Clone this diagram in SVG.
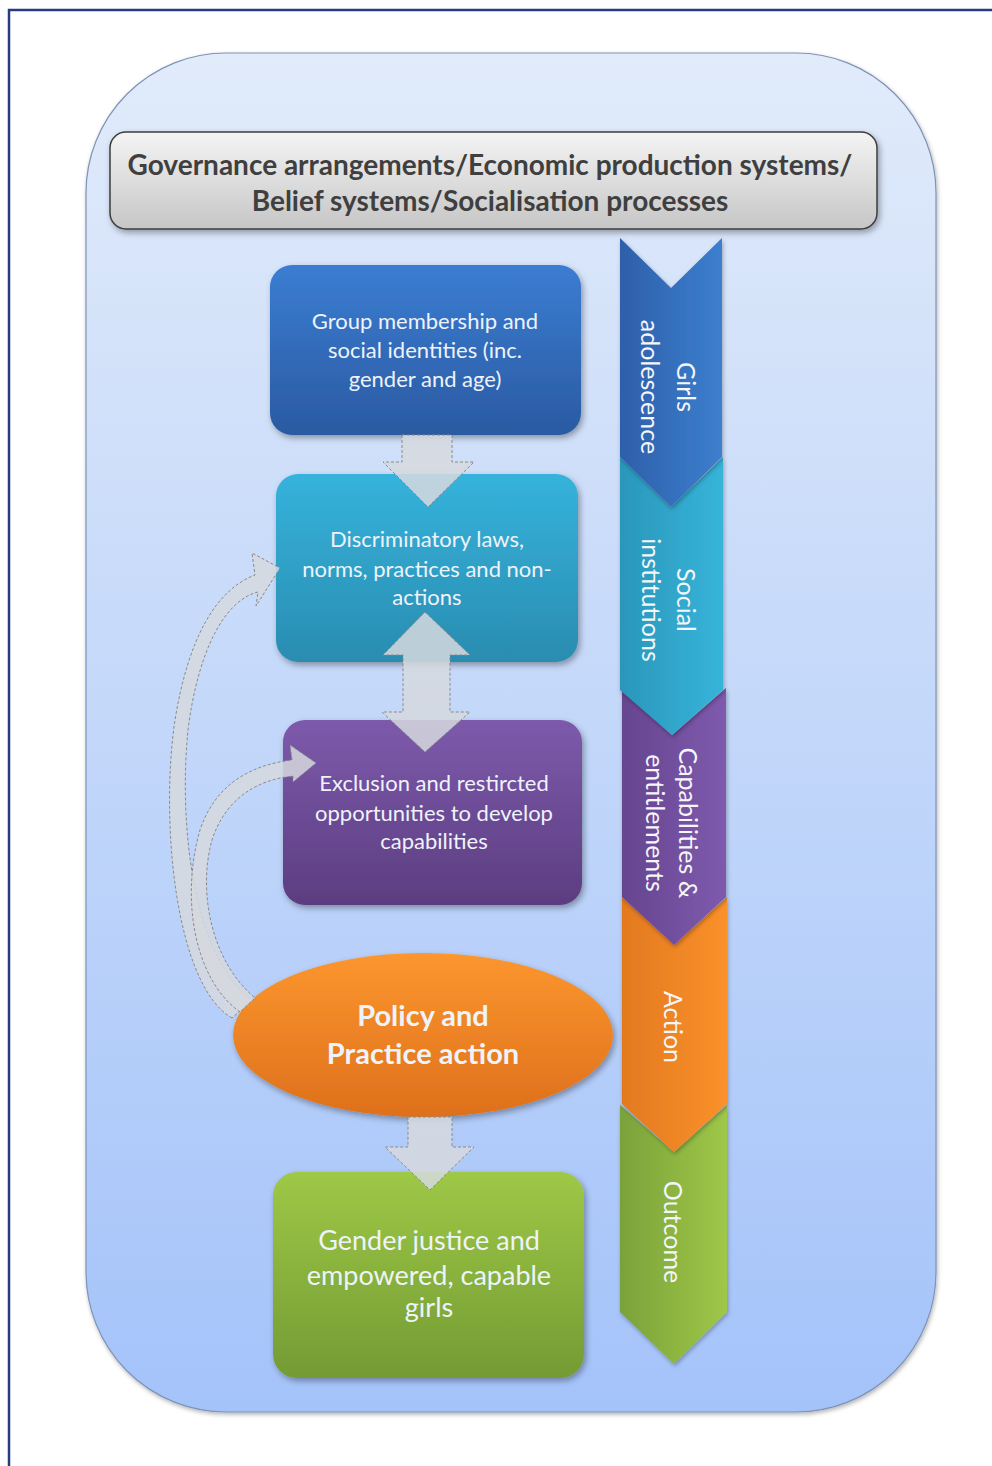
<svg xmlns="http://www.w3.org/2000/svg" width="992" height="1466" viewBox="0 0 992 1466">
<defs>
<linearGradient id="gFrame" x1="0" y1="0" x2="0" y2="1"><stop offset="0" stop-color="#E1EBFA"/><stop offset="1" stop-color="#A4C3FA"/></linearGradient>
<linearGradient id="gHead" x1="0" y1="0" x2="0" y2="1"><stop offset="0" stop-color="#F4F4F4"/><stop offset="1" stop-color="#C6C6C6"/></linearGradient>
<linearGradient id="gBlue" x1="0" y1="0" x2="0" y2="1"><stop offset="0" stop-color="#3B7DD2"/><stop offset="1" stop-color="#2A5AA2"/></linearGradient>
<linearGradient id="gCyan" x1="0" y1="0" x2="0" y2="1"><stop offset="0" stop-color="#35B3DC"/><stop offset="1" stop-color="#2A8CB0"/></linearGradient>
<linearGradient id="gPurp" x1="0" y1="0" x2="0" y2="1"><stop offset="0" stop-color="#7D5AAC"/><stop offset="1" stop-color="#5C3D80"/></linearGradient>
<linearGradient id="gOra" x1="0" y1="0" x2="0" y2="1"><stop offset="0" stop-color="#FC962E"/><stop offset="1" stop-color="#DE701C"/></linearGradient>
<linearGradient id="gGrn" x1="0" y1="0" x2="0" y2="1"><stop offset="0" stop-color="#9EC846"/><stop offset="1" stop-color="#739B34"/></linearGradient>
<linearGradient id="cBlue" x1="0" y1="0" x2="1" y2="0"><stop offset="0" stop-color="#2E5FAA"/><stop offset="1" stop-color="#3C7FCE"/></linearGradient>
<linearGradient id="cCyan" x1="0" y1="0" x2="1" y2="0"><stop offset="0" stop-color="#2A97BA"/><stop offset="1" stop-color="#37B4DA"/></linearGradient>
<linearGradient id="cPurp" x1="0" y1="0" x2="1" y2="0"><stop offset="0" stop-color="#66458F"/><stop offset="1" stop-color="#7F5AAE"/></linearGradient>
<linearGradient id="cOra" x1="0" y1="0" x2="1" y2="0"><stop offset="0" stop-color="#E3791F"/><stop offset="1" stop-color="#FA912A"/></linearGradient>
<linearGradient id="cGrn" x1="0" y1="0" x2="1" y2="0"><stop offset="0" stop-color="#7AA23A"/><stop offset="1" stop-color="#9FC748"/></linearGradient>
<filter id="sh" x="-10%" y="-10%" width="125%" height="130%"><feDropShadow dx="2" dy="3" stdDeviation="3" flood-color="#000" flood-opacity="0.35"/></filter>
<filter id="shs" x="-10%" y="-10%" width="125%" height="130%"><feDropShadow dx="1" dy="2" stdDeviation="2" flood-color="#000" flood-opacity="0.3"/></filter>
</defs>
<style>
.bt{font-family:Lato,"Open Sans","DejaVu Sans",sans-serif;fill:#EEF3FA;text-anchor:middle}
.hd{font-family:Lato,"Open Sans","DejaVu Sans",sans-serif;font-weight:bold;fill:#3F3F3F;text-anchor:middle;font-size:28px}
.ct{font-family:Lato,"Open Sans","DejaVu Sans",sans-serif;fill:#F4F6FA;text-anchor:middle;font-size:25px}
.arr{fill:#D6D9DE;fill-opacity:0.85;stroke:#8A8A8A;stroke-width:1;stroke-dasharray:3 2}
</style>
<rect width="992" height="1466" fill="#FFFFFF"/>
<path d="M9 1466 V10 H992" fill="none" stroke="#253C80" stroke-width="2.5"/>
<rect id="frame" x="86" y="53" width="850" height="1359" rx="140" fill="url(#gFrame)" stroke="#7E93B6" stroke-width="1.2" filter="url(#shs)"/>
<g id="header">
<rect x="110" y="132" width="767" height="97" rx="16" fill="url(#gHead)" stroke="#3C3C3C" stroke-width="1.5" filter="url(#sh)"/>
<text class="hd" x="490" y="175">Governance arrangements/Economic production systems/</text>
<text class="hd" x="490" y="211">Belief systems/Socialisation processes</text>
</g>
<g id="chevrons">
<g id="ch-green"><polygon points="620,1105 674,1152 727,1105 727,1312 674,1364 620,1312" fill="url(#cGrn)" filter="url(#shs)"/>
<text class="ct" transform="translate(673,1232) rotate(90)" x="0" y="9">Outcome</text></g>
<g id="ch-orange"><polygon points="622,897 674,945 727,897 727,1104 674,1152 622,1104" fill="url(#cOra)" filter="url(#shs)"/>
<text class="ct" transform="translate(673,1027) rotate(90)" x="0" y="9">Action</text></g>
<g id="ch-purple"><polygon points="622,688 672,735 726,688 726,897 674,945 622,897" fill="url(#cPurp)" filter="url(#shs)"/>
<text class="ct" transform="translate(671,823) rotate(90)"><tspan x="0" y="-8">Capabilities &amp;</tspan><tspan x="0" y="25">entitlements</tspan></text></g>
<g id="ch-cyan"><polygon points="620,457 671,507 723,457 723,690 672,735 620,690" fill="url(#cCyan)" filter="url(#shs)"/>
<text class="ct" transform="translate(668,600) rotate(90)"><tspan x="0" y="-9">Social</tspan><tspan x="0" y="26">institutions</tspan></text></g>
<g id="ch-blue"><polygon points="620,238 671,288 722,238 722,457 671,507 620,457" fill="url(#cBlue)" filter="url(#shs)"/>
<text class="ct" transform="translate(668,387) rotate(90)"><tspan x="0" y="-9">Girls</tspan><tspan x="0" y="27">adolescence</tspan></text></g>
</g>
<g id="n1">
<rect x="270" y="265" width="311" height="170" rx="22" fill="url(#gBlue)" filter="url(#sh)"/>
<text class="bt" font-size="22"><tspan x="425" y="329">Group membership and</tspan><tspan x="425" y="358">social identities  (inc.</tspan><tspan x="425" y="387">gender and age)</tspan></text>
</g>
<g id="n2">
<rect x="276" y="474" width="302" height="188" rx="22" fill="url(#gCyan)" filter="url(#sh)"/>
<text class="bt" font-size="22"><tspan x="427" y="547">Discriminatory laws,</tspan><tspan x="427" y="577">norms, practices and non-</tspan><tspan x="427" y="605">actions</tspan></text>
</g>
<g id="n3">
<rect x="283" y="720" width="299" height="185" rx="22" fill="url(#gPurp)" filter="url(#sh)"/>
<text class="bt" font-size="22"><tspan x="434" y="791">Exclusion and restircted</tspan><tspan x="434" y="821">opportunities to develop</tspan><tspan x="434" y="849">capabilities</tspan></text>
</g>
<g id="n4">
<ellipse cx="423" cy="1035" rx="190" ry="82" fill="url(#gOra)" filter="url(#sh)"/>
<text class="bt" font-size="29" font-weight="bold" fill="#FFF6EE"><tspan x="423" y="1026">Policy and</tspan><tspan x="423" y="1064">Practice action</tspan></text>
</g>
<g id="n5">
<rect x="273" y="1172" width="311" height="206" rx="24" fill="url(#gGrn)" filter="url(#sh)"/>
<text class="bt" font-size="27"><tspan x="429" y="1250">Gender justice and</tspan><tspan x="429" y="1285">empowered, capable</tspan><tspan x="429" y="1317">girls</tspan></text>
</g>
<g id="connectors">
<path class="arr" d="M402 435 H452 V462 H474 L428 507 L383 462 H402 Z"/>
<path class="arr" d="M425 612 L470 655 H450 V712 H470 L425 752 L382 712 H403 V655 H383 Z"/>
<path class="arr" d="M408 1117 H452 V1147 H474 L430 1190 L385 1147 H408 Z"/>
<path class="arr" d="M232 1018 C175 985 160 820 175 720 C188 640 215 590 255 575 L252 553 L280 568 L256 606 L258 592 C225 600 198 650 188 730 C178 830 195 960 252 1000 Z"/>
<path class="arr" d="M240 1012 C195 980 180 900 200 830 C215 785 250 765 292 760 L290 745 L316 763 L293 782 L293 776 C255 780 225 800 212 840 C198 890 210 960 255 998 Z"/>
</g>
</svg>
